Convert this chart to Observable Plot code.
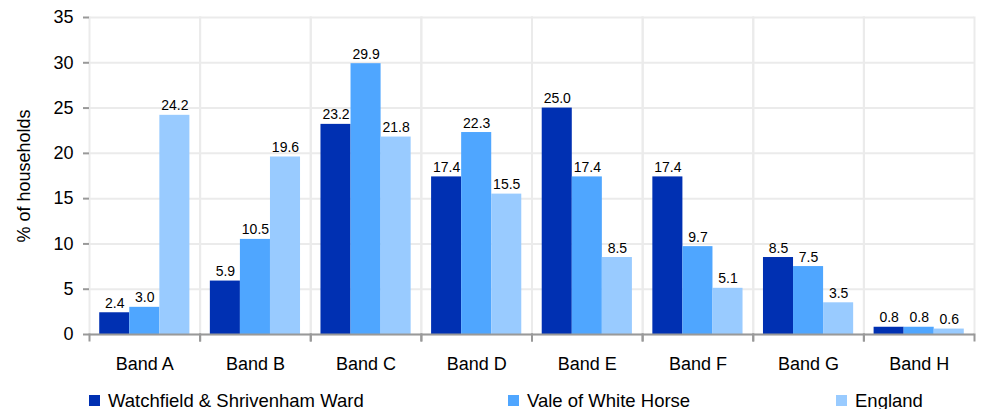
<!DOCTYPE html>
<html>
<head>
<meta charset="utf-8">
<script src="https://cdn.jsdelivr.net/npm/d3@7"></script>
<script src="https://cdn.jsdelivr.net/npm/@observablehq/plot@0.6"></script>
<style>
  html, body { margin: 0; padding: 0; background: #fff; }
  body { width: 981px; height: 409px; overflow: hidden; font-family: "Liberation Sans", Arial, sans-serif; }
  #legend { position: relative; width: 981px; height: 29px; font-size: 18.5px; color: #000; }
  .item { position: absolute; top: 0; height: 29px; display: flex; align-items: center; }
  .sw { width: 11px; height: 11px; margin-right: 8px; margin-top: 11px; }
  .lbl { margin-top: 12px; line-height: 18px; }
</style>
</head>
<body>
<div id="chart"></div>
<div id="legend"></div>
<script>
const bands = ["Band A", "Band B", "Band C", "Band D", "Band E", "Band F", "Band G", "Band H"];
const series = ["Watchfield & Shrivenham Ward", "Vale of White Horse", "England"];
const watchfield = [2.4, 5.9, 23.2, 17.4, 25.0, 17.4, 8.5, 0.8];
const vale = [3.0, 10.5, 29.9, 22.3, 17.4, 9.7, 7.5, 0.8];
const england = [24.2, 19.6, 21.8, 15.5, 8.5, 5.1, 3.5, 0.6];
const colors = ["#0030b2", "#4fa6ff", "#99cbff"];
const yTicks = [0, 5, 10, 15, 20, 25, 30, 35];

const seriesValues = [watchfield, vale, england];
const data = [];
bands.forEach((b, i) => {
  series.forEach((s, j) => {
    data.push({band: b, series: s, value: seriesValues[j][i]});
  });
});

const W = 981, H = 380, mT = 17, mB = 46;
const plotH = H - mT - mB;

const chart = Plot.plot({
  width: W,
  height: H,
  marginLeft: 89,
  marginRight: 7,
  marginTop: mT,
  marginBottom: mB,
  style: {fontFamily: "Liberation Sans, Arial, sans-serif", background: "#fff", color: "#000"},
  fx: {domain: bands, padding: 0, round: false, label: null},
  x: {domain: series, paddingInner: 0, paddingOuter: 0.34, round: false, axis: null},
  y: {domain: [0, 35], label: null},
  color: {domain: series, range: colors},
  marks: [
    Plot.gridY(yTicks, {stroke: "#ebebeb", strokeWidth: 2, strokeOpacity: 1}),
    Plot.frame({anchor: "left", stroke: "#ebebeb", strokeWidth: 2}),
    Plot.frame({anchor: "right", stroke: "#ebebeb", strokeWidth: 2}),
    Plot.frame({anchor: "left", stroke: "#999", strokeWidth: 2, insetTop: plotH, insetBottom: -6}),
    Plot.frame({anchor: "right", stroke: "#999", strokeWidth: 2, insetTop: plotH, insetBottom: -6}),
    Plot.barY(data, {fx: "band", x: "series", y: "value", fill: "series"}),
    Plot.text(data, {fx: "band", x: "series", y: "value", text: d => d.value.toFixed(1),
      lineAnchor: "bottom", dy: -5, fontSize: 14, fill: "#000"}),
    Plot.ruleY([0], {stroke: "#999", strokeWidth: 2}),
    Plot.axisY(yTicks, {anchor: "left", tickSize: 6, tickPadding: 10, fontSize: 18, stroke: "#999", strokeWidth: 2,
      fill: "#000", line: true, label: "% of households", labelArrow: "none", labelAnchor: "center", labelOffset: 72}),
    Plot.axisFx({anchor: "bottom", tickSize: 0, tickPadding: 23, fontSize: 18, label: null, fill: "#000"})
  ]
});
document.getElementById("chart").appendChild(chart);

const legend = document.getElementById("legend");
const legendX = [89, 508, 836];
series.forEach((s, j) => {
  const item = document.createElement("div");
  item.className = "item";
  item.style.left = legendX[j] + "px";
  const sw = document.createElement("div");
  sw.className = "sw";
  sw.style.background = colors[j];
  const lbl = document.createElement("div");
  lbl.className = "lbl";
  lbl.textContent = s;
  item.appendChild(sw);
  item.appendChild(lbl);
  legend.appendChild(item);
});
</script>
</body>
</html>
